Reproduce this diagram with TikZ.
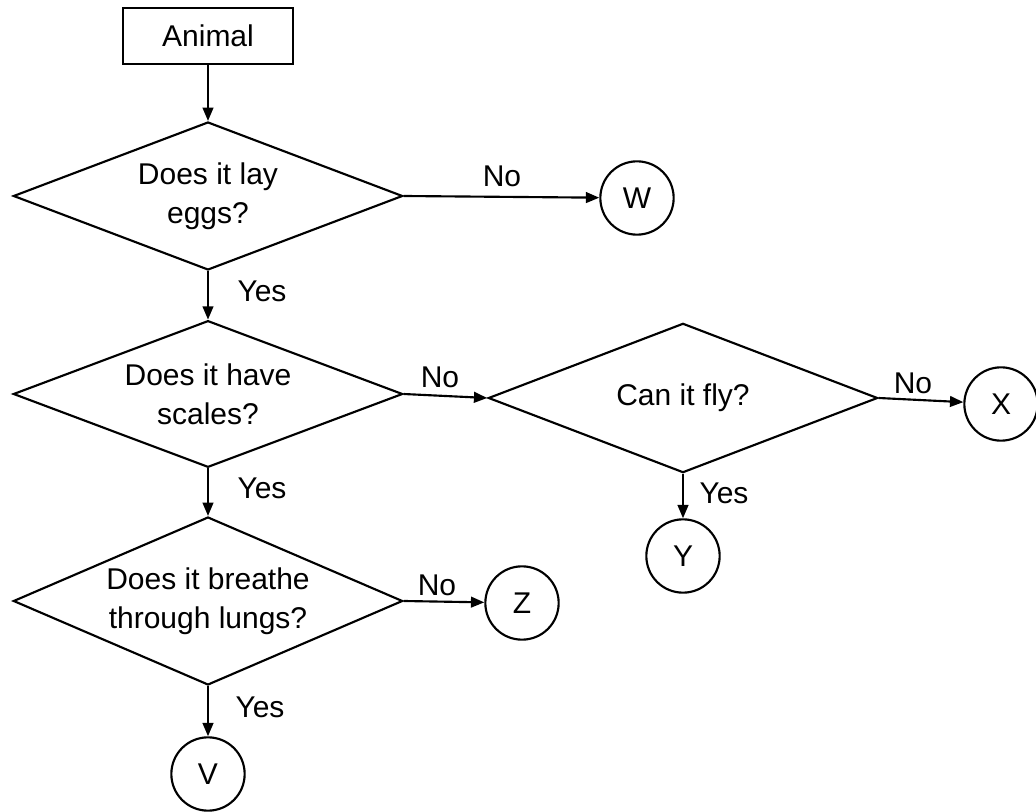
\documentclass[tikz,border=0pt]{standalone}
\usepackage{fontspec}
\setmainfont{Liberation Sans}
\usetikzlibrary{shapes.geometric,arrows.meta}
\begin{document}
\begin{tikzpicture}[x=0.75pt,y=-0.75pt,
  every node/.style={font=\fontsize{22.5}{29}\selectfont},
  arr/.style={line width=1.6pt,-{Triangle[length=10pt,width=8pt]}},
  box/.style={draw,line width=1.6pt,rectangle,minimum width=127pt,minimum height=42pt,inner sep=0pt},
  dia/.style={draw,line width=1.6pt,diamond,minimum width=292pt,align=center,inner sep=0pt},
  term/.style={draw,line width=1.6pt,circle,minimum size=55pt,inner sep=0pt},
  lab/.style={inner sep=0pt}]
\useasboundingbox (0,0) rectangle (1036,812);
\node[box] (animal) at (208,36) {Animal};
\node[dia,aspect=2.64,minimum height=111pt] (d1) at (208,196) {Does it lay\\eggs?};
\node[dia,aspect=2.65,minimum height=110pt] (d2) at (208,394) {Does it have\\scales?};
\node[dia,aspect=2.6,minimum height=112pt] (d3) at (683,398) {Can it fly?};
\node[dia,aspect=2.32,minimum height=126pt] (d4) at (208,601) {Does it breathe\\through lungs?};
\node[term] (w) at (637,198) {W};
\node[term] (x) at (1001,404) {X};
\node[term] (y) at (683,556) {Y};
\node[term] (z) at (522,603) {Z};
\node[term] (v) at (208,774) {V};
\draw[arr] (animal) -- (d1);
\draw[arr] (d1.east) -- (w);
\draw[arr] (d1) -- (d2);
\draw[arr] (d2.east) -- (d3.west);
\draw[arr] (d3.east) -- (x);
\draw[arr] (d3) -- (y);
\draw[arr] (d2) -- (d4);
\draw[arr] (d4.east) -- (z);
\draw[arr] (d4) -- (v);
\node[lab] (no1) at (502,176) {No};
\node[lab] (no2) at (440,377) {No};
\node[lab] (no3) at (913,383) {No};
\node[lab] (no4) at (437,585) {No};
\node[lab] (yes1) at (262,291) {Yes};
\node[lab] (yes2) at (262,488) {Yes};
\node[lab] (yes3) at (724,493) {Yes};
\node[lab] (yes4) at (260,707) {Yes};
\end{tikzpicture}
\end{document}
